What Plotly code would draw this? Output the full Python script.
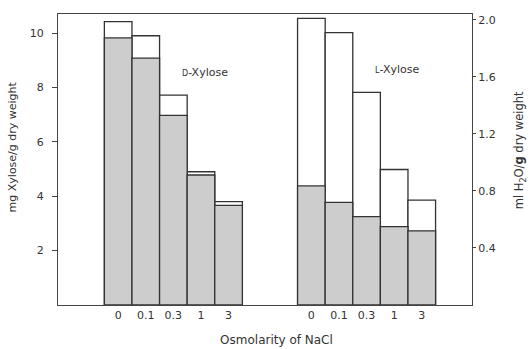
import plotly.graph_objects as go

osmolarity = ["0", "0.1", "0.3", "1", "3"]

# D-Xylose (left axis, mg xylose / g dry weight)
d_total = [10.42, 9.9, 7.72, 4.9, 3.8]
d_inner = [9.82, 9.08, 6.97, 4.78, 3.66]

# L-Xylose (right axis, ml H2O / g dry weight)
l_total = [2.01, 1.91, 1.49, 0.95, 0.735]
l_inner = [0.835, 0.72, 0.62, 0.55, 0.52]

left_ticks = [2, 4, 6, 8, 10]
right_ticks = [0.4, 0.8, 1.2, 1.6, 2.0]

n = len(osmolarity)
d_pos = list(range(n))
l_pos = [i + 7 for i in range(n)]

edge = dict(color="#333333", width=1.3)
gray = "#cdcdcd"

fig = go.Figure()
fig.add_trace(go.Bar(x=d_pos, y=d_total, width=1, marker=dict(color="white", line=edge),
                     yaxis="y", showlegend=False))
fig.add_trace(go.Bar(x=d_pos, y=d_inner, width=1, marker=dict(color=gray, line=edge),
                     yaxis="y", showlegend=False))
fig.add_trace(go.Bar(x=l_pos, y=l_total, width=1, marker=dict(color="white", line=edge),
                     yaxis="y2", showlegend=False))
fig.add_trace(go.Bar(x=l_pos, y=l_inner, width=1, marker=dict(color=gray, line=edge),
                     yaxis="y2", showlegend=False))

font = dict(family="DejaVu Sans", size=11, color="#333")

L, R, T, B = 58, 59, 14, 44
pw = 531 - L - R
ph = 349 - T - B


def px(x):
    return (x - L) / pw


def py(y):
    return (349 - B - y) / ph


NB = "&nbsp;"

fig.update_layout(
    width=531, height=349,
    margin=dict(l=L, r=R, t=T, b=B, autoexpand=False),
    paper_bgcolor="white", plot_bgcolor="white",
    barmode="overlay",
    font=font,
    xaxis=dict(range=[-2.18, 12.82], tickvals=d_pos + l_pos, ticktext=osmolarity + osmolarity,
               showline=True, linecolor="#444", linewidth=1.3, mirror=True,
               showgrid=False, zeroline=False, ticks="", tickfont=dict(size=11),
               title=dict(text=NB * 6 + "Osmolarity of NaCl", standoff=14, font=dict(size=12))),
    yaxis=dict(range=[0, 10.7], tickvals=left_ticks, showline=True, linecolor="#444", linewidth=1.3,
               showgrid=False, zeroline=False, ticks="outside", ticklen=5, tickcolor="#444",
               ticklabelstandoff=6,
               title=dict(text=NB * 7 + "mg Xylose/g dry weight", standoff=10, font=dict(size=11))),
    yaxis2=dict(range=[0, 2.04], tickvals=right_ticks, tickformat=".1f", overlaying="y", side="right",
                showline=True, linecolor="#444", linewidth=1.3, showgrid=False, zeroline=False,
                ticks="outside", ticklen=3, tickcolor="#444", ticklabelstandoff=0,
                title=dict(text=NB * 5 + "ml H<sub>2</sub>O/<b>g</b> dry weight", standoff=20,
                           font=dict(size=11.5))),
    annotations=[
        dict(x=px(180), y=py(64), xref="paper", yref="paper", xanchor="left",
             text="<span style='font-size:8px'>D</span>-Xylose", showarrow=False, font=dict(size=11)),
        dict(x=px(373), y=py(61), xref="paper", yref="paper", xanchor="left",
             text="<span style='font-size:8px'>L</span>-Xylose", showarrow=False, font=dict(size=11)),
    ],
)

fig.write_html("out.html", config={"displayModeBar": False},
               post_script="document.body.style.margin='0px';")
